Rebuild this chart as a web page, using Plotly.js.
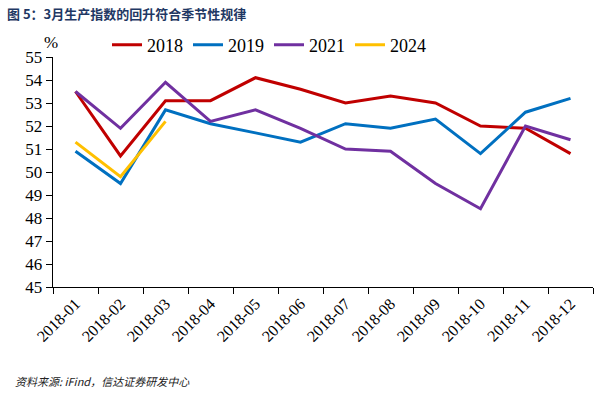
<!DOCTYPE html>
<html><head><meta charset="utf-8">
<script src="https://cdn.plot.ly/plotly-3.0.1.min.js"></script>
<style>body{margin:0;background:#fff;font-family:'Liberation Serif'}#c{width:613px;height:394px}
.pre{position:absolute;left:0;top:0;font-family:'Liberation Serif';font-size:2px;color:rgba(0,0,0,0)}</style>
</head><body><div class="pre">0</div><div id="c"></div>
<script>
const months = ["2018-01","2018-02","2018-03","2018-04","2018-05","2018-06","2018-07","2018-08","2018-09","2018-10","2018-11","2018-12"];
const v2018 = [53.5,50.7,53.1,53.1,54.1,53.6,53.0,53.3,53.0,52.0,51.9,50.8];
const v2019 = [50.9,49.5,52.7,52.1,51.7,51.3,52.1,51.9,52.3,50.8,52.6,53.2];
const v2021 = [53.5,51.9,53.9,52.2,52.7,51.9,51.0,50.9,49.5,48.4,52.0,51.4];
const v2024 = [51.3,49.8,52.2];
const names = ["2018","2019","2021","2024"];
const colors = ["#C00000","#0070C0","#7030A0","#FFC000"];
const series = [v2018,v2019,v2021,v2024];
const traces = series.map((s,i)=>({x:months.slice(0,s.length),y:s,name:names[i],type:"scatter",mode:"lines",line:{color:colors[i],width:3}}));
const SF = "Liberation Serif";
const layout = {
  width:613,height:394,margin:{l:53,r:20,t:57,b:107},
  paper_bgcolor:"#fff",plot_bgcolor:"#fff",
  showlegend:true,
  legend:{orientation:"h",x:0.1,y:1+12/230,xanchor:"left",yanchor:"middle",font:{family:SF,size:18,color:"#000"},bgcolor:"rgba(0,0,0,0)",itemwidth:30,tracegroupgap:0},
  xaxis:{type:"category",range:[-0.5,11.5],tickson:"boundaries",ticks:"outside",ticklen:6,tickcolor:"#000",showline:true,linecolor:"#000",linewidth:1.3,showgrid:false,tickangle:-45,tickfont:{family:SF,size:16,color:"#000"},fixedrange:true},
  yaxis:{range:[45,55],dtick:1,ticks:"outside",ticklen:6,tickcolor:"#000",showline:true,linecolor:"#000",linewidth:1.3,showgrid:false,zeroline:false,tickfont:{family:SF,size:17,color:"#000"},fixedrange:true},
  annotations:[
    {text:"<b>图 5：3月生产指数的回升符合季节性规律</b>",xref:"paper",yref:"paper",x:-53/540+0.01,y:1+(57-14)/230,xanchor:"left",yanchor:"middle",showarrow:false,font:{family:"Noto Sans CJK SC",size:13,color:"#1F3864"}},
    {text:"%",xref:"paper",yref:"paper",x:-2/540,y:1+(57-43)/230,xanchor:"center",yanchor:"middle",showarrow:false,font:{family:SF,size:17,color:"#000"}},
    {text:"<i>资料来源: iFind，信达证券研发中心</i>",xref:"paper",yref:"paper",x:-40/540,y:-(381-287)/230,xanchor:"left",yanchor:"middle",showarrow:false,font:{family:"Noto Sans CJK SC",size:11,color:"#222"}}
  ]
};
Plotly.newPlot("c",traces,layout,{displayModeBar:false,staticPlot:true});
</script></body></html>
